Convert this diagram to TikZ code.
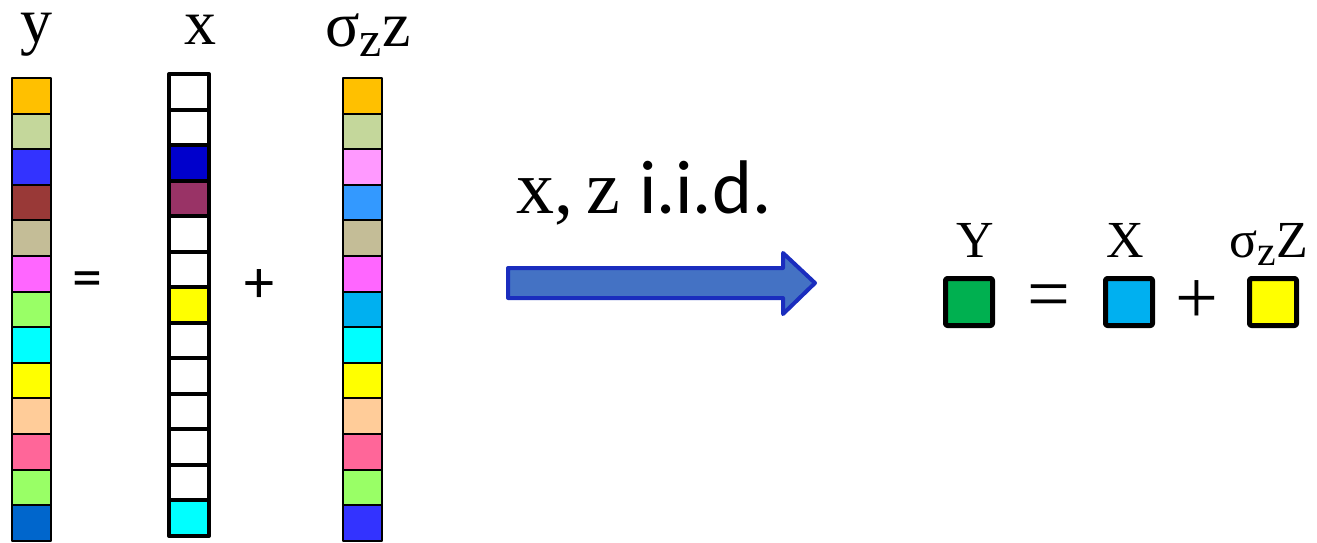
\documentclass[tikz,border=0pt]{standalone}
\usepackage{fontspec}
\setmainfont{Liberation Serif}
\newfontfamily\sansfont{Carlito}
\definecolor{amber}{HTML}{FFC000}
\definecolor{sage}{HTML}{C4D79B}
\definecolor{ultra}{HTML}{3333FF}
\definecolor{brick}{HTML}{993937}
\definecolor{khaki}{HTML}{C4BD97}
\definecolor{magentaL}{HTML}{FF66FF}
\definecolor{lime}{HTML}{99FF66}
\definecolor{aqua}{HTML}{00FFFF}
\definecolor{lemon}{HTML}{FFFF00}
\definecolor{peach}{HTML}{FFCC99}
\definecolor{rose}{HTML}{FF6699}
\definecolor{cobalt}{HTML}{0066CC}
\definecolor{deepblue}{HTML}{0000CC}
\definecolor{plum}{HTML}{993366}
\definecolor{orchid}{HTML}{FF99FF}
\definecolor{azure}{HTML}{3399FF}
\definecolor{sky}{HTML}{00B0F0}
\definecolor{leaf}{HTML}{00B050}
\definecolor{arrowfill}{HTML}{4472C4}
\definecolor{arrowline}{HTML}{1A2DBE}
\begin{document}
\begin{tikzpicture}[x=0.5pt,y=-0.5pt,line cap=round,line join=round,
  ycell/.style={draw=black,line width=1pt,minimum width=19.5pt,minimum height=17.8pt,inner sep=0pt,outer sep=0pt},
  xcell/.style={draw=black,line width=2pt,minimum width=20pt,minimum height=17.77pt,inner sep=0pt,outer sep=0pt},
  eqbox/.style={draw=black,line width=2.5pt,rounded corners=1pt,minimum size=23.5pt,inner sep=0pt},
  collab/.style={anchor=base,inner sep=0pt,font=\fontsize{32}{38}\selectfont},
  eqlab/.style={anchor=base,inner sep=0pt,font=\fontsize{26}{30}\selectfont},
  op/.style={inner sep=0pt}]
  \useasboundingbox (0,0) rectangle (1317,542);
  % left: the three columns
  \foreach \c [count=\i] in {amber,sage,ultra,brick,khaki,magentaL,lime,aqua,lemon,peach,rose,lime,cobalt}
    \node[ycell,fill=\c] (y\i) at (31.5,{78+35.6*(\i-0.5)}) {};
  \foreach \c [count=\i] in {white,white,deepblue,plum,white,white,lemon,white,white,white,white,white,aqua}
    \node[xcell,fill=\c] (x\i) at (189,{74+35.54*(\i-0.5)}) {};
  \foreach \c [count=\i] in {amber,sage,orchid,azure,khaki,magentaL,sky,aqua,lemon,peach,rose,lime,ultra}
    \node[ycell,fill=\c] (z\i) at (362,{78+35.6*(\i-0.5)}) {};
  \node[collab] (ylab) at (36,42) {y};
  \node[collab] (xlab) at (200,44) {x};
  \node[collab] (zlab) at (368,46) {σ{\raisebox{-0.35ex}{\fontsize{25}{28}\selectfont z}}z};
  \node[op,font=\sansfont\fontsize{30}{36}\selectfont] (eqL) at (87,285) {=};
  \node[op,font=\sansfont\fontsize{30}{36}\selectfont] (plusL) at (259,286) {+};
  % arrow
  \node[anchor=base,inner sep=0pt,font=\fontsize{38}{44}\selectfont] (iid) at (644,213) {x,\,z {\sansfont i.i.d.}};
  \draw[line width=2pt,draw=arrowline,fill=arrowfill] (508,268) -- (783,268) -- (783,253) -- (815,283)
    -- (783,314) -- (783,298) -- (508,298) -- cycle;
  % right: the scalar equation
  \node[eqbox,fill=leaf] (Y) at (969,302) {};
  \node[eqbox,fill=sky] (X) at (1129,302) {};
  \node[eqbox,fill=lemon] (Z) at (1273,302) {};
  \node[op,font=\fontsize{38}{42}\selectfont] (eqR) at (1049,302) {=};
  \node[op,font=\fontsize{38}{42}\selectfont] (plusR) at (1197,302) {+};
  \node[eqlab] (Ylab) at (975,257) {Y};
  \node[eqlab] (Xlab) at (1125,257) {X};
  \node[eqlab] (Zlab) at (1269,257) {σ{\raisebox{-0.35ex}{\fontsize{21}{24}\selectfont z}}Z};
\end{tikzpicture}
\end{document}
